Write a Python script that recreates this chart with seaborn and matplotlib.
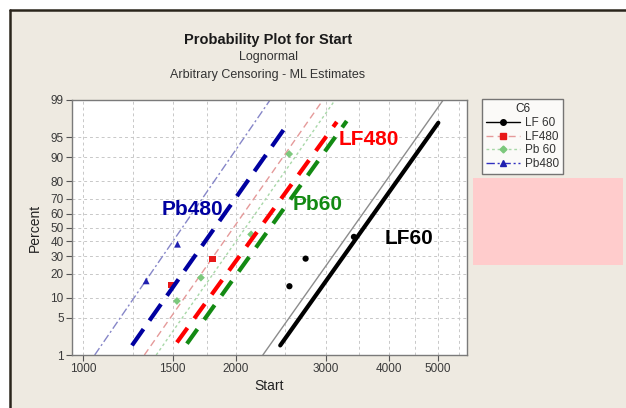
import matplotlib
matplotlib.use("Agg")
import matplotlib.pyplot as plt
from matplotlib.patches import Rectangle
from matplotlib.lines import Line2D
from matplotlib.ticker import NullFormatter
from statistics import NormalDist
import seaborn as sns
import numpy as np

# --- data ---
groups = ["LF 60", "LF480", "Pb 60", "Pb480"]

lf60_start = [2547, 2741, 3413]
lf60_pct = [14.2, 28.5, 43.2]
lf480_start = [1490, 1797]
lf480_pct = [14.6, 28.5]
pb60_start = [1529, 1705, 2141, 2544]
pb60_pct = [9.0, 18.0, 45.0, 91.0]
pb480_start = [1330, 1533]
pb480_pct = [16.5, 38.0]

# ML fit lines (Start at 1% and 99%)
fit_pct = [1, 99]
lf60_fit = [2258, 5117]
lf480_fit = [1319, 2966]
pb60_fit = [1392, 3133]
pb480_fit = [1053, 2333]

# hand-drawn overlay lines
lf60_mark = [2443, 5005]
lf60_mark_pct = [1.57, 97.2]
lf480_mark = [1529, 3158]
lf480_mark_pct = [1.8, 97.3]
pb60_mark = [1600, 3303]
pb60_mark_pct = [1.7, 97.4]
pb480_mark = [1247, 2544]
pb480_mark_pct = [1.57, 97.3]

y_ticks = [1, 5, 10, 20, 30, 40, 50, 60, 70, 80, 90, 95, 99]
x_ticks = [1000, 1500, 2000, 3000, 4000, 5000]
x_minor = [1250, 1750, 2500, 3500, 4500, 5500]

# --- probability (normal) scale for percent ---
nd = NormalDist()
_ppf = np.vectorize(nd.inv_cdf, otypes=[float])
_cdf = np.vectorize(nd.cdf, otypes=[float])

def fwd(p):
    p = np.clip(np.asarray(p, dtype=float) / 100.0, 1e-6, 1 - 1e-6)
    return _ppf(p)

def inv(z):
    return _cdf(np.asarray(z, dtype=float)) * 100.0

sns.set_style("white")
plt.rcParams["font.family"] = ["Liberation Sans", "DejaVu Sans"]

W, H = 626, 408
fig = plt.figure(figsize=(W / 100, H / 100), dpi=100)
fig.patch.set_facecolor("white")

# Minitab-like beige graph region with dark frame
bg = "#eeeae1"
fig.add_artist(Rectangle((10 / W, 0), 1, 1 - 10 / H, transform=fig.transFigure,
                         facecolor=bg, edgecolor="none", zorder=-10))
fig.add_artist(Line2D([10 / W, 10 / W], [0, 1 - 10 / H], transform=fig.transFigure,
                      color="#2a251c", lw=1.8))
fig.add_artist(Line2D([10 / W, 1], [1 - 10 / H, 1 - 10 / H], transform=fig.transFigure,
                      color="#2a251c", lw=1.8))

ax = fig.add_axes([72 / W, 1 - 355 / H, (467 - 72) / W, (355 - 100) / H])
ax.set_facecolor("white")
ax.set_xscale("log")
ax.set_yscale("function", functions=(fwd, inv))

# thin fitted lines
sns.lineplot(x=lf60_fit, y=fit_pct, ax=ax, color="#8c8c8c", lw=1.0, sort=False)
sns.lineplot(x=lf480_fit, y=fit_pct, ax=ax, color="#e59a9a", lw=1.0, sort=False,
             linestyle=(0, (5, 3)))
sns.lineplot(x=pb60_fit, y=fit_pct, ax=ax, color="#a8d8a8", lw=1.0, sort=False,
             linestyle=(0, (2, 2)))
sns.lineplot(x=pb480_fit, y=fit_pct, ax=ax, color="#8686c8", lw=1.0, sort=False,
             linestyle=(0, (6, 2, 1.5, 2)))

# data points
sns.scatterplot(x=lf60_start, y=lf60_pct, ax=ax, color="black", marker="o", s=20,
                edgecolor="none", zorder=3)
sns.scatterplot(x=lf480_start, y=lf480_pct, ax=ax, color="#e81818", marker="s", s=20,
                edgecolor="none", zorder=3)
sns.scatterplot(x=pb60_start, y=pb60_pct, ax=ax, color="#7cc87c", marker="D", s=16,
                edgecolor="none", zorder=3)
sns.scatterplot(x=pb480_start, y=pb480_pct, ax=ax, color="#2020b0", marker="^", s=24,
                edgecolor="none", zorder=3)

# thick overlay lines
sns.lineplot(x=lf60_mark, y=lf60_mark_pct, ax=ax, color="black", lw=3.0, sort=False,
             zorder=4)
sns.lineplot(x=lf480_mark, y=lf480_mark_pct, ax=ax, color="#ff0000", lw=3.0, sort=False,
             linestyle=(0, (4.3, 2.8)), zorder=4)
sns.lineplot(x=pb60_mark, y=pb60_mark_pct, ax=ax, color="#138a13", lw=3.0, sort=False,
             linestyle=(0, (4.3, 2.8)), zorder=4)
sns.lineplot(x=pb480_mark, y=pb480_mark_pct, ax=ax, color="#0000a0", lw=3.0, sort=False,
             linestyle=(0, (4.8, 2.5)), zorder=4)

# labels drawn on the chart
ax.text(3654, 94.5, "LF480", color="#ff0000", fontsize=15, fontweight="bold",
        ha="center", va="center", zorder=5)
ax.text(2901, 66.5, "Pb60", color="#138a13", fontsize=15, fontweight="bold",
        ha="center", va="center", zorder=5)
ax.text(1639, 63.1, "Pb480", color="#0000a0", fontsize=15, fontweight="bold",
        ha="center", va="center", zorder=5)
ax.text(4383, 42.2, "LF60", color="black", fontsize=15, fontweight="bold",
        ha="center", va="center", zorder=5)

# axes
ax.set_xlim(950, 5700)
ax.set_ylim(1, 99)
ax.set_xticks(x_ticks)
ax.set_xticklabels([str(v) for v in x_ticks])
ax.set_xticks(x_minor, minor=True)
ax.xaxis.set_minor_formatter(NullFormatter())
ax.set_yticks(y_ticks)
ax.set_yticklabels([str(v) for v in y_ticks])
ax.yaxis.set_minor_locator(matplotlib.ticker.NullLocator())
ax.tick_params(axis="both", which="major", direction="out", length=4, width=0.8,
               color="#555555", labelsize=8.5, labelcolor="#3a3a3a", pad=2,
               left=True, bottom=True)
ax.tick_params(axis="x", which="minor", length=0)
ax.grid(True, which="both", axis="x", color="#c8c8c8", lw=0.7, ls=(0, (3, 3)))
ax.grid(True, which="major", axis="y", color="#c8c8c8", lw=0.7, ls=(0, (3, 3)))
ax.set_axisbelow(True)
for sp in ax.spines.values():
    sp.set_color("#7a7a7a")
    sp.set_linewidth(1.0)

ax.set_xlabel("Start", fontsize=10, color="#222222", labelpad=3)
ax.set_ylabel("Percent", fontsize=10, color="#222222", labelpad=6)

# titles
fig.text(268 / W, 1 - 40 / H, "Probability Plot for Start", ha="center", va="center",
         fontsize=10.5, fontweight="bold", color="#1a1a1a")
fig.text(268 / W, 1 - 57 / H, "Lognormal", ha="center", va="center",
         fontsize=9, color="#333333")
fig.text(268 / W, 1 - 75 / H, "Arbitrary Censoring - ML Estimates", ha="center",
         va="center", fontsize=9, color="#333333")

# legend
handles = [
    Line2D([], [], color="black", lw=1.0, marker="o", ms=4),
    Line2D([], [], color="#e59a9a", lw=1.0, ls=(0, (5, 3)), marker="s", ms=4,
           mfc="#e81818", mec="#e81818"),
    Line2D([], [], color="#a8d8a8", lw=1.0, ls=(0, (2, 2)), marker="D", ms=3.5,
           mfc="#7cc87c", mec="#7cc87c"),
    Line2D([], [], color="#3030c0", lw=1.0, ls=(0, (6, 2, 1.5, 2)), marker="^", ms=4.5,
           mfc="#2020b0", mec="#2020b0"),
]
leg = fig.legend(handles, groups, title="C6", loc="upper left",
                 bbox_to_anchor=(482 / W, 1 - 99 / H), fontsize=8.5, title_fontsize=8.5,
                 frameon=True, fancybox=False, edgecolor="#555555",
                 handlelength=2.9, handletextpad=0.4, borderpad=0.35,
                 labelspacing=0.15, borderaxespad=0)
leg.get_frame().set_linewidth(1.0)
for t in leg.get_texts():
    t.set_color("#333333")

# pink box
fig.add_artist(Rectangle((473 / W, 1 - 265 / H), 150 / W, 87 / H,
                         transform=fig.transFigure, facecolor="#ffcccc",
                         edgecolor="none", zorder=2))

fig.savefig("out.png", dpi=100, facecolor=fig.get_facecolor())
